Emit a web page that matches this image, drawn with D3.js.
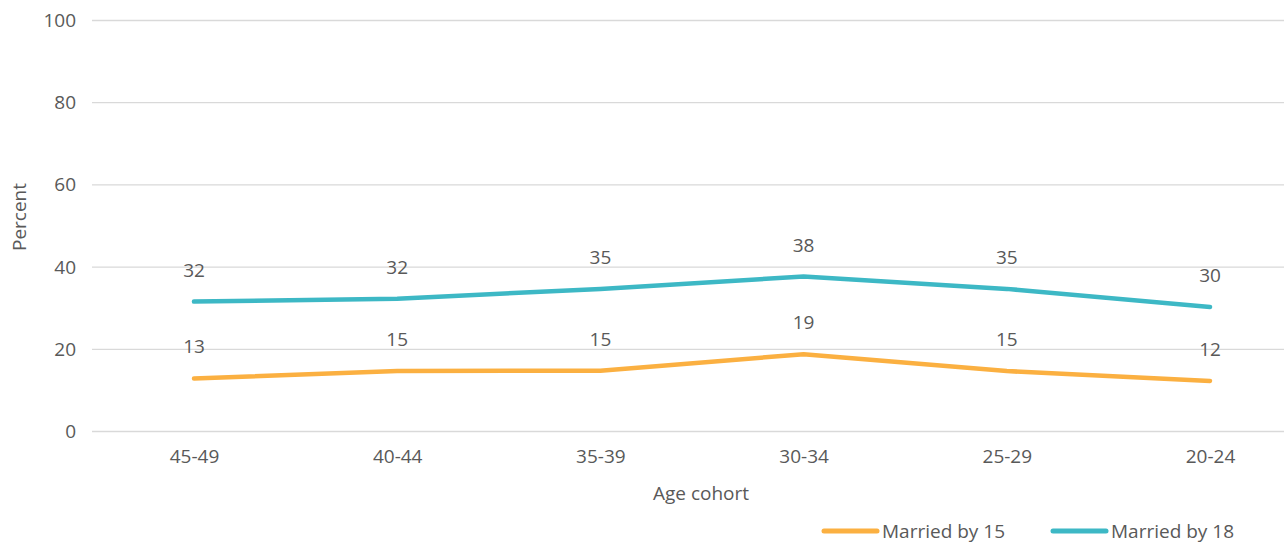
<!DOCTYPE html>
<html><head><meta charset="utf-8">
<script src="https://cdn.jsdelivr.net/npm/d3@7"></script>
<style>body{margin:0;background:#fff}svg{display:block}text{font-family:"Open Sans",Arial,sans-serif;fill:#595959}</style>
</head><body><svg id="c" width="1287" height="547"></svg>
<script>
const categories = ["45-49","40-44","35-39","30-34","25-29","20-24"];
const marriedBy15 = [12.9, 14.7, 14.8, 18.8, 14.7, 12.3];
const marriedBy18 = [31.6, 32.3, 34.7, 37.7, 34.7, 30.3];
const yTicks = [0,20,40,60,80,100];
const seriesNames = ["Married by 15","Married by 18"];
const colors = ["#FBB041","#3DB8C5"];

const FS = 19;
const FF = "Open Sans, Arial, sans-serif";
const svg = d3.select("#c");
const x = d3.scalePoint().domain(categories).range([194,1210]);
const y = d3.scaleLinear().domain([0,100]).range([431.5,20.5]);
const gridL = 92, gridR = 1284;

svg.append("g").selectAll("line").data(yTicks).join("line")
  .attr("x1",gridL).attr("x2",gridR).attr("y1",d=>y(d)).attr("y2",d=>y(d))
  .attr("stroke","#D9D9D9").attr("stroke-width",1.3);

const ya = svg.append("g").attr("transform",`translate(${gridL},0)`)
  .call(d3.axisLeft(y).tickValues(yTicks).tickSize(0).tickPadding(16));
ya.select(".domain").remove();
ya.attr("font-size",FS).attr("font-family",FF);
ya.selectAll("text").style("fill","#595959");

const xa = svg.append("g").attr("transform",`translate(0,${y(0)})`)
  .call(d3.axisBottom(x).tickSize(0).tickPadding(18));
xa.select(".domain").remove();
xa.attr("font-size",FS).attr("font-family",FF);
xa.selectAll("text").style("fill","#595959");

svg.append("text").attr("transform","translate(26,217) rotate(-90)").attr("text-anchor","middle")
  .attr("font-size",FS).text("Percent");
svg.append("text").attr("x",701).attr("y",500).attr("text-anchor","middle").attr("font-size",FS).text("Age cohort");

const series = [marriedBy15, marriedBy18];
const line = d3.line().x((d,i)=>x(categories[i])).y(d=>y(d));
series.forEach((s,k)=>{
  svg.append("path").datum(s).attr("d",line).attr("fill","none")
    .attr("stroke",colors[k]).attr("stroke-width",4.5).attr("stroke-linecap","round").attr("stroke-linejoin","round");
  svg.append("g").selectAll("text").data(s).join("text")
    .attr("x",(d,i)=>x(categories[i])).attr("y",d=>y(d)-25)
    .attr("text-anchor","middle").attr("font-size",FS).text(d=>Math.round(d));
});

const legX = [824, 1053];
seriesNames.forEach((n,k)=>{
  svg.append("line").attr("x1",legX[k]).attr("x2",legX[k]+53).attr("y1",531).attr("y2",531)
    .attr("stroke",colors[k]).attr("stroke-width",5).attr("stroke-linecap","round");
  svg.append("text").attr("x",legX[k]+58).attr("y",538).attr("font-size",FS).text(n);
});
</script></body></html>
